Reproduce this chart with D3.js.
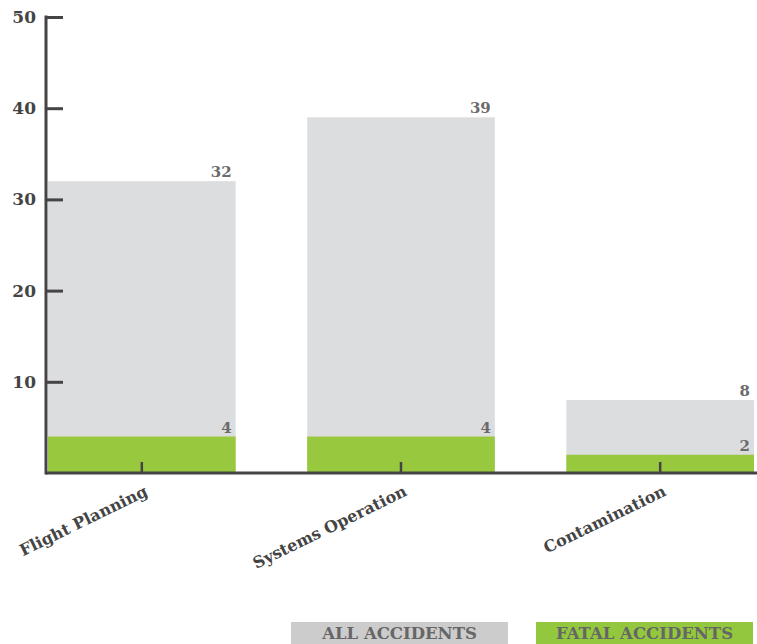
<!DOCTYPE html>
<html>
<head>
<meta charset="utf-8">
<script src="https://cdn.jsdelivr.net/npm/d3@7"></script>
<style>
  body { margin: 0; background: #fff; }
  svg { display: block; }
  text { font-family: "DejaVu Serif", "Liberation Serif", serif; font-weight: bold; }
</style>
</head>
<body>
<div id="chart"></div>
<script>
// Accident counts by cause
const categories = ["Flight Planning", "Systems Operation", "Contamination"];
const allAccidents = [32, 39, 8];
const fatalAccidents = [4, 4, 2];
const yTicks = [10, 20, 30, 40, 50];
const legendLabels = ["ALL ACCIDENTS", "FATAL ACCIDENTS"];

const width = 757, height = 644;
const colors = { all: "#dcdddf", fatal: "#97c83e", axis: "#444", value: "#6b6b6b" };

const svg = d3.select("#chart").append("svg")
  .attr("width", width).attr("height", height);

const x = d3.scaleBand().domain(categories).range([48, 754])
  .paddingInner(0.276).paddingOuter(0);
const y = d3.scaleLinear().domain([0, 50]).range([473, 17]);
const baseY = 473;

const rows = categories.map((c, i) => ({ c, all: allAccidents[i], fatal: fatalAccidents[i] }));

// Total accidents
svg.append("g").selectAll("rect").data(rows).join("rect")
  .attr("x", d => x(d.c)).attr("width", x.bandwidth())
  .attr("y", d => y(d.all)).attr("height", d => y(0) - y(d.all))
  .attr("fill", colors.all);

// Fatal accidents
svg.append("g").selectAll("rect").data(rows).join("rect")
  .attr("x", d => x(d.c)).attr("width", x.bandwidth())
  .attr("y", d => y(d.fatal)).attr("height", d => y(0) - y(d.fatal))
  .attr("fill", colors.fatal);

// Value labels
const labels = svg.append("g").attr("font-size", 15).attr("fill", colors.value).attr("text-anchor", "end");
labels.selectAll("text.all").data(rows).join("text").attr("class", "all")
  .attr("x", d => x(d.c) + x.bandwidth() - 4).attr("y", d => y(d.all) - 4)
  .text(d => d.all);
labels.selectAll("text.fatal").data(rows).join("text").attr("class", "fatal")
  .attr("x", d => x(d.c) + x.bandwidth() - 4).attr("y", d => y(d.fatal) - 4)
  .text(d => d.fatal);

// Y axis
const yAxis = svg.append("g").attr("transform", "translate(46,0)")
  .call(d3.axisRight(y).tickValues(yTicks).tickSize(17).tickFormat(""));
yAxis.select(".domain").remove();
yAxis.selectAll(".tick line").attr("stroke", colors.axis).attr("stroke-width", 3);
svg.append("line").attr("x1", 46).attr("x2", 46).attr("y1", y(50) - 1.5).attr("y2", baseY + 1.5)
  .attr("stroke", colors.axis).attr("stroke-width", 3);
svg.append("g").attr("font-size", 17).attr("fill", colors.axis).attr("text-anchor", "end")
  .selectAll("text").data(yTicks).join("text")
  .attr("x", 36).attr("y", d => y(d) + 6).text(d => d);

// X axis
const xAxis = svg.append("g").attr("transform", `translate(0,${baseY})`)
  .call(d3.axisTop(x).tickSize(11).tickFormat(""));
xAxis.select(".domain").remove();
xAxis.selectAll(".tick line").attr("stroke", colors.axis).attr("stroke-width", 2.5);
svg.append("line").attr("x1", 46).attr("x2", width).attr("y1", baseY).attr("y2", baseY)
  .attr("stroke", colors.axis).attr("stroke-width", 3);

svg.append("g").attr("font-size", 16).attr("fill", colors.axis).attr("text-anchor", "end")
  .selectAll("text").data(categories).join("text")
  .attr("transform", d => `translate(${x(d) + x.bandwidth() / 2 + 7},${baseY + 22}) rotate(-26)`)
  .text(d => d);

// Legend
const legend = svg.append("g");
const legendItems = [
  { label: legendLabels[0], fill: "#cccccc", x0: 291 },
  { label: legendLabels[1], fill: "#93c83e", x0: 536 }
];
legend.selectAll("rect").data(legendItems).join("rect")
  .attr("x", d => d.x0).attr("y", 622).attr("width", 217).attr("height", 22)
  .attr("fill", d => d.fill);
legend.selectAll("text").data(legendItems).join("text")
  .attr("x", d => d.x0 + 108.5).attr("y", 639).attr("text-anchor", "middle")
  .attr("font-size", 16.5).attr("fill", "#666")
  .text(d => d.label);
</script>
</body>
</html>
